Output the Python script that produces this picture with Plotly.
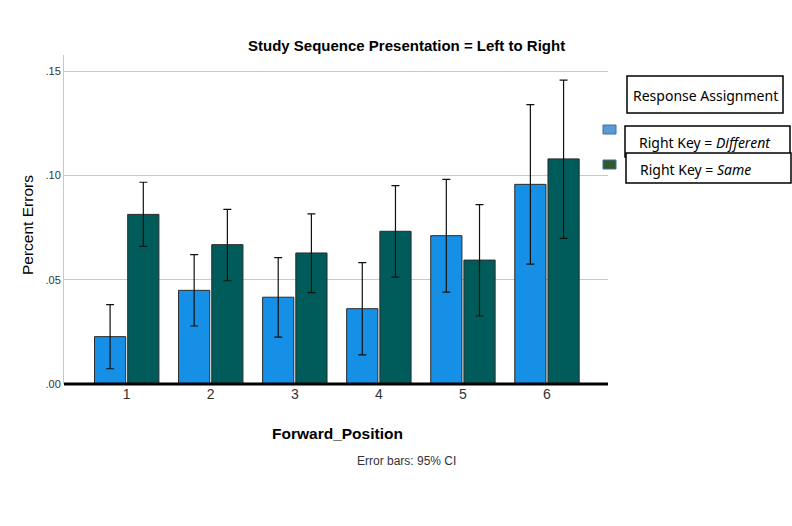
import plotly.graph_objects as go

# ---- data ----
positions = ["1", "2", "3", "4", "5", "6"]
diff_vals = [0.0227, 0.0449, 0.0416, 0.0361, 0.0711, 0.0957]
diff_hi = [0.0380, 0.0620, 0.0606, 0.0582, 0.0981, 0.1339]
diff_lo = [0.0073, 0.0278, 0.0225, 0.0140, 0.0440, 0.0575]
same_vals = [0.0813, 0.0668, 0.0628, 0.0732, 0.0594, 0.1079]
same_hi = [0.0967, 0.0837, 0.0815, 0.0951, 0.0860, 0.1457]
same_lo = [0.0660, 0.0495, 0.0438, 0.0512, 0.0326, 0.0698]
y_ticks = [0.0, 0.05, 0.10, 0.15]
y_tick_labels = [".00", ".05", ".10", ".15"]

W, H = 792, 526
L, R, T, B = 64, 608, 55, 384


def px(x):
    return (x - L) / (R - L)


def py(y):
    return (B - y) / (B - T)


fig = go.Figure()
fig.add_bar(
    x=positions, y=diff_vals, name="Right Key = Different",
    marker=dict(color="#1590e6", line=dict(color="#2b2b2b", width=1)),
    error_y=dict(type="data", symmetric=False,
                 array=[h - v for h, v in zip(diff_hi, diff_vals)],
                 arrayminus=[v - l for l, v in zip(diff_lo, diff_vals)],
                 color="#111111", thickness=1.2, width=4),
)
fig.add_bar(
    x=positions, y=same_vals, name="Right Key = Same",
    marker=dict(color="#005c5a", line=dict(color="#2b2b2b", width=1)),
    error_y=dict(type="data", symmetric=False,
                 array=[h - v for h, v in zip(same_hi, same_vals)],
                 arrayminus=[v - l for l, v in zip(same_lo, same_vals)],
                 color="#111111", thickness=1.2, width=4),
)

shapes = []
# thick baseline
shapes.append(dict(type="line", xref="paper", yref="paper", x0=0, x1=1, y0=0, y1=0,
                   line=dict(color="black", width=3), layer="above"))
# legend swatches
shapes.append(dict(type="rect", xref="paper", yref="paper",
                   x0=px(603), x1=px(616), y0=py(134), y1=py(125),
                   fillcolor="#5b9bd5", line=dict(color="#41719c", width=1)))
shapes.append(dict(type="rect", xref="paper", yref="paper",
                   x0=px(603), x1=px(616), y0=py(169), y1=py(160),
                   fillcolor="#375623", line=dict(color="#2e75b6", width=1)))
# legend boxes
for (x0, y0, x1, y1) in [(627, 76, 783, 113), (625, 126, 790, 157), (626, 153, 791, 183)]:
    shapes.append(dict(type="rect", xref="paper", yref="paper",
                       x0=px(x0), x1=px(x1), y0=py(y1), y1=py(y0),
                       fillcolor="white", line=dict(color="black", width=1.5)))

annotations = [
    dict(text="Response Assignment", xref="paper", yref="paper", x=px(705), y=py(95),
         showarrow=False, xanchor="center", yanchor="middle",
         font=dict(family="Noto Sans", size=14, color="black")),
    dict(text="Right Key = <i>Different</i>", xref="paper", yref="paper", x=px(637), y=py(142),
         showarrow=False, xanchor="left", yanchor="middle",
         font=dict(family="Noto Sans", size=14, color="black")),
    dict(text="Right Key = <i>Same</i>", xref="paper", yref="paper", x=px(638), y=py(169),
         showarrow=False, xanchor="left", yanchor="middle",
         font=dict(family="Noto Sans", size=14, color="black")),
    dict(text="Error bars: 95% CI", xref="paper", yref="paper", x=px(406), y=py(461),
         showarrow=False, xanchor="center", yanchor="middle",
         font=dict(family="Liberation Sans", size=12, color="#333333")),
    dict(text="<b>Study Sequence Presentation = Left to Right</b>", xref="paper", yref="paper",
         x=px(406), y=py(45), showarrow=False, xanchor="center", yanchor="middle",
         font=dict(family="Liberation Sans", size=15, color="black")),
    dict(text="<b>Forward_Position</b>", xref="paper", yref="paper",
         x=px(337), y=py(433), showarrow=False, xanchor="center", yanchor="middle",
         font=dict(family="Liberation Sans", size=15.5, color="black")),
    dict(text="Percent Errors", xref="paper", yref="paper", textangle=-90,
         x=px(27), y=py(225), showarrow=False, xanchor="center", yanchor="middle",
         font=dict(family="Liberation Sans", size=15.5, color="black")),
]

fig.update_layout(
    width=W, height=H,
    margin=dict(l=L, r=W - R, t=T, b=H - B, pad=0),
    paper_bgcolor="white", plot_bgcolor="white",
    barmode="group", bargap=0.21, bargroupgap=0.06,
    showlegend=False,
    shapes=shapes, annotations=annotations,
    font=dict(family="Liberation Sans", color="#222222"),
)
fig.update_xaxes(
    type="category", range=[-0.746, 5.726],
    showgrid=False, zeroline=False, showline=False, ticks="",
    tickfont=dict(size=14, color="#333333"),
)
fig.update_yaxes(
    range=[0, 0.1577],
    tickvals=y_ticks, ticktext=y_tick_labels,
    showgrid=True, gridcolor="#c8c8c8", gridwidth=1,
    zeroline=False, showline=True, linecolor="#c8c8c8", linewidth=1,
    ticks="", tickfont=dict(size=11, color="#333333"),
)

fig.write_html("out.html")
